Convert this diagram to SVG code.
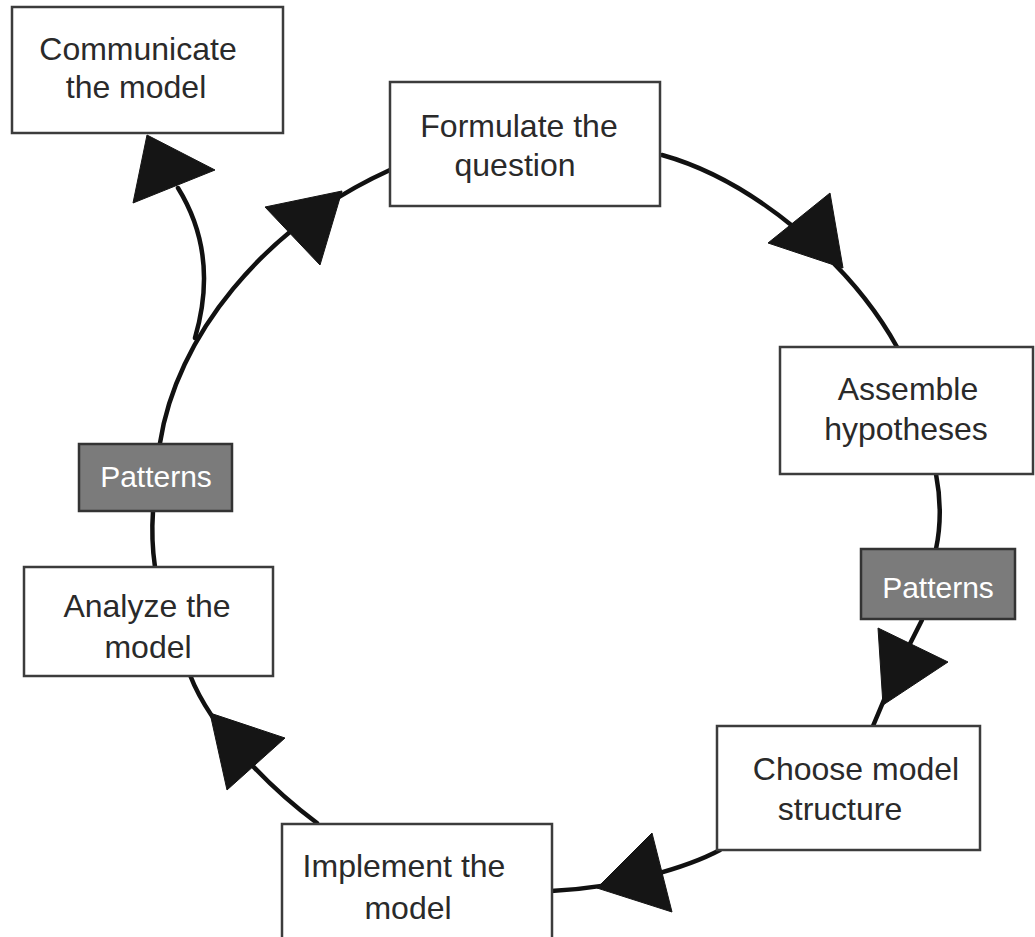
<svg xmlns="http://www.w3.org/2000/svg" width="1035" height="937" viewBox="0 0 1035 937">
<style>
.box{fill:#fff;stroke:#3c3c3c;stroke-width:2.5}
.pat{fill:#7b7b7b;stroke:#333;stroke-width:2.5}
.t{font-family:"Liberation Sans",Arial,sans-serif;font-size:32px;fill:#2a2a2a;text-anchor:middle}
.pt{font-family:"Liberation Sans",Arial,sans-serif;font-size:30px;fill:#fff;text-anchor:middle}
.ln{fill:none;stroke:#111;stroke-width:4.5;stroke-linecap:round}
.ah{fill:#151515;stroke:#151515;stroke-width:1;stroke-linejoin:round}
</style>
<rect width="1035" height="937" fill="#fff"/>
<g id="connectors">
<path class="ln" d="M160,443 C176,338 262,228 390,170"/>
<path class="ln" d="M195,338 C212,280 204,230 178,188"/>
<path class="ln" d="M662,155 C752,180 850,262 897,347"/>
<path class="ln" d="M936,474 C941,500 941,525 936,549"/>
<path class="ln" d="M922,620 Q895,672 873,726"/>
<path class="ln" d="M720,850 C690,866 622,888 551,891"/>
<path class="ln" d="M317,823 C275,792 212,732 190,675"/>
<path class="ln" d="M155,567 Q151,540 153,511"/>
<polygon class="ah" points="147,135 215,170 133,203"/>
<polygon class="ah" points="265,207 320,265 342,191"/>
<polygon class="ah" points="768,243 830,193 843,268"/>
<polygon class="ah" points="878,628 948,662 883,705"/>
<polygon class="ah" points="597,888 652,833 672,912"/>
<polygon class="ah" points="210,713 285,738 227,790"/>
</g>
<g id="communicate">
<rect class="box" x="12" y="7" width="271" height="126"/>
<text class="t" x="138" y="60">Communicate</text>
<text class="t" x="136" y="98">the model</text>
</g>
<g id="formulate">
<rect class="box" x="390" y="82" width="270" height="124"/>
<text class="t" x="519" y="137">Formulate the</text>
<text class="t" x="515" y="176">question</text>
</g>
<g id="assemble">
<rect class="box" x="780" y="347" width="253" height="127"/>
<text class="t" x="908" y="400">Assemble</text>
<text class="t" x="906" y="440">hypotheses</text>
</g>
<g id="patterns-right">
<rect class="pat" x="861" y="549" width="154" height="70"/>
<text class="pt" x="938" y="598">Patterns</text>
</g>
<g id="choose">
<rect class="box" x="717" y="726" width="263" height="124"/>
<text class="t" x="856" y="780">Choose model</text>
<text class="t" x="840" y="820">structure</text>
</g>
<g id="implement">
<rect class="box" x="282" y="824" width="270" height="140"/>
<text class="t" x="404" y="877">Implement the</text>
<text class="t" x="408" y="919">model</text>
</g>
<g id="analyze">
<rect class="box" x="24" y="567" width="249" height="109"/>
<text class="t" x="147" y="617">Analyze the</text>
<text class="t" x="148" y="658">model</text>
</g>
<g id="patterns-left">
<rect class="pat" x="79" y="444" width="153" height="67"/>
<text class="pt" x="156" y="487">Patterns</text>
</g>
</svg>
